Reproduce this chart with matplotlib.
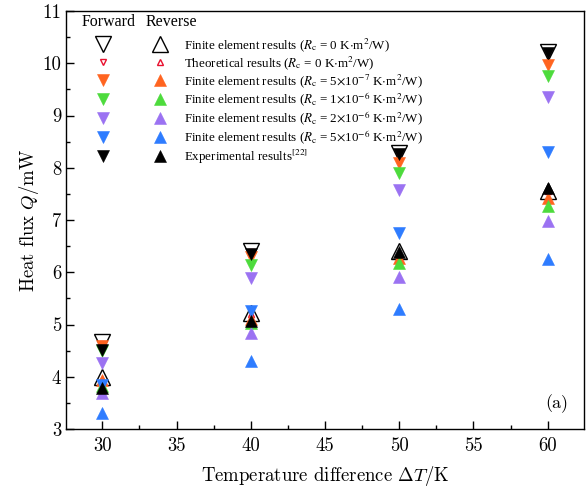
import matplotlib
matplotlib.use("Agg")
import matplotlib.pyplot as plt
from matplotlib.font_manager import FontProperties
from matplotlib.legend_handler import HandlerTuple
from matplotlib.ticker import MultipleLocator

# ---------------- data ----------------
dT = [30, 40, 50, 60]
fe0_fwd = [4.66, 6.40, 8.28, 10.22]
fe0_rev = [3.99, 5.22, 6.40, 7.56]
theo_fwd = [4.63, 6.38, 8.26, 10.20]
theo_rev = [3.95, 5.20, 6.38, 7.55]
r1_fwd = [4.58, 6.30, 8.09, 9.97]
r1_rev = [3.93, 5.10, 6.28, 7.42]
r2_fwd = [4.50, 6.14, 7.90, 9.75]
r2_rev = [3.82, 5.02, 6.17, 7.27]
r3_fwd = [4.27, 5.89, 7.57, 9.35]
r3_rev = [3.69, 4.83, 5.91, 6.98]
r4_fwd = [3.84, 5.25, 6.75, 8.30]
r4_rev = [3.30, 4.30, 5.30, 6.25]
exp_fwd = [4.51, 6.35, 8.27, 10.20]
exp_rev = [3.78, 5.07, 6.38, 7.61]

labels = [
    r"Finite element results ($R_\mathrm{c}$ = 0 K$\cdot$m$^2$/W)",
    r"Theoretical results ($R_\mathrm{c}$ = 0 K$\cdot$m$^2$/W)",
    r"Finite element results ($R_\mathrm{c}$ = 5$\times$10$^{-7}$ K$\cdot$m$^2$/W)",
    r"Finite element results ($R_\mathrm{c}$ = 1$\times$10$^{-6}$ K$\cdot$m$^2$/W)",
    r"Finite element results ($R_\mathrm{c}$ = 2$\times$10$^{-6}$ K$\cdot$m$^2$/W)",
    r"Finite element results ($R_\mathrm{c}$ = 5$\times$10$^{-6}$ K$\cdot$m$^2$/W)",
    r"Experimental results$^{[22]}$",
]

c_orange = "#FF6420"
c_green = "#4DDB3C"
c_purple = "#9B72F2"
c_blue = "#2E7CFF"
c_red = "#E8102E"

series = [
    (fe0_fwd, fe0_rev, dict(mfc="none", mec="black", ms=11, mew=1.0)),
    (theo_fwd, theo_rev, dict(mfc="none", mec=c_red, ms=5, mew=1.0)),
    (r1_fwd, r1_rev, dict(mfc=c_orange, mec=c_orange, ms=9, mew=0.4)),
    (r2_fwd, r2_rev, dict(mfc=c_green, mec=c_green, ms=9, mew=0.4)),
    (r3_fwd, r3_rev, dict(mfc=c_purple, mec=c_purple, ms=9, mew=0.4)),
    (r4_fwd, r4_rev, dict(mfc=c_blue, mec=c_blue, ms=9, mew=0.4)),
    (exp_fwd, exp_rev, dict(mfc="black", mec="black", ms=9, mew=0.4)),
]

fig = plt.figure(figsize=(5.87, 4.92), dpi=100)
ax = fig.add_axes([66 / 587, 1 - 429 / 492, 518 / 587, 418 / 492])

handles = []
for i, (fw, rv, st) in enumerate(series):
    hf, = ax.plot(dT, fw, linestyle="none", marker="v", zorder=3 + i, **st)
    hr, = ax.plot(dT, rv, linestyle="none", marker="^", zorder=3 + i, **st)
    handles.append((hf, hr))

ax.set_xlim(27.55, 62.45)
ax.set_ylim(3, 11)
ax.xaxis.set_major_locator(MultipleLocator(5))
ax.xaxis.set_minor_locator(MultipleLocator(2.5))
ax.yaxis.set_major_locator(MultipleLocator(1))
ax.yaxis.set_minor_locator(MultipleLocator(0.5))
ax.tick_params(which="both", direction="in", top=False, right=False)
ax.tick_params(which="major", length=6, width=1)
ax.tick_params(which="minor", length=3, width=1)
ax.tick_params(axis="x", pad=6)
for sp in ax.spines.values():
    sp.set_linewidth(1.0)

cm_font = dict(family="cmr10", size=13.5, math_fontfamily="cm")
for lab in ax.get_xticklabels() + ax.get_yticklabels():
    lab.set_fontfamily("cmr10")
    lab.set_fontsize(13.5)
ax.set_xlabel(r"Temperature difference $\Delta T$/K", fontdict=cm_font, labelpad=6)
ax.set_ylabel(r"Heat flux $Q$/mW", fontdict=cm_font, labelpad=1)

fs = 13.0  # legend font size in px
leg_prop = FontProperties(family="Liberation Serif", size=fs * 72 / 100, math_fontfamily="stix")
w_part = 16.0
pad = 41.0
leg = ax.legend(
    handles, labels,
    handler_map={tuple: HandlerTuple(ndivide=None, pad=pad / fs)},
    prop=leg_prop, frameon=False, loc="upper left",
    bbox_to_anchor=((95 - 66) / 518, (429 - 36) / 418),
    borderpad=0, borderaxespad=0,
    handlelength=(2 * w_part + pad) / fs, handletextpad=16 / fs,
    handleheight=1.0, labelspacing=0.06, numpoints=1,
)

head_font = FontProperties(family="Liberation Serif", size=fs * 72 / 100 * 1.22)
ax.text((82 - 66) / 518, (429 - 22) / 418, "Forward", transform=ax.transAxes,
        fontproperties=head_font, va="center", ha="left")
ax.text((146 - 66) / 518, (429 - 22) / 418, "Reverse", transform=ax.transAxes,
        fontproperties=head_font, va="center", ha="left")

ax.text((557 - 66) / 518, (429 - 404) / 418, "(a)", transform=ax.transAxes,
        ha="center", va="center", fontsize=13, family="cmr10")

fig.savefig("out.png", dpi=100)
